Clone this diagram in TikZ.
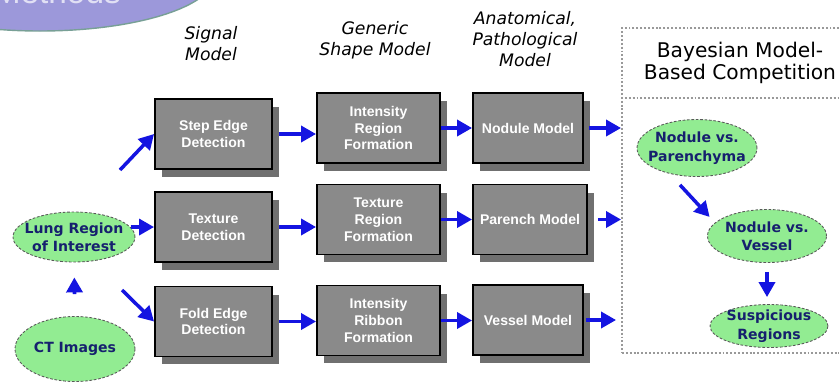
\documentclass[tikz,border=0pt]{standalone}
\usepackage{fontspec}
\setmainfont{Liberation Sans}
\newfontfamily\dejavu{DejaVu Sans}
\usetikzlibrary{positioning, shapes.geometric, shadows, arrows.meta}

\definecolor{lavender}{RGB}{156,152,218}
\definecolor{lavedge}{RGB}{120,160,150}
\definecolor{boxgray}{RGB}{138,138,138}
\definecolor{shadegray}{RGB}{112,112,112}
\definecolor{lightgrn}{RGB}{146,236,146}
\definecolor{navy}{RGB}{22,32,110}
\definecolor{arrblue}{RGB}{20,20,225}

\begin{document}
\begin{tikzpicture}[x=0.02cm, y=-0.02cm,
    procbox/.style={draw=black, line width=1.1pt, fill=boxgray, text=white,
      font=\bfseries\fontsize{8}{9.6}\selectfont, align=center,
      minimum height=1.4cm, inner sep=1pt,
      drop shadow={shadow xshift=0.14cm, shadow yshift=-0.16cm, fill=shadegray, opacity=1}},
    greenell/.style={ellipse, draw=black!65, dash pattern=on 1.5pt off 1pt,
      line width=0.5pt, fill=lightgrn, inner sep=0pt},
    greentxt/.style={text=navy, font=\dejavu\bfseries\fontsize{8}{10.5}\selectfont, align=center},
    heading/.style={font=\dejavu\itshape\fontsize{9.8}{12}\selectfont, align=center},
    arr/.style={-{Triangle[length=0.3cm, width=0.32cm]}, line width=2pt, draw=arrblue},
    dotline/.style={draw=gray!80, line width=1.1pt, dash pattern=on 1.1pt off 1.1pt}
  ]
  \path[use as bounding box, fill=white] (0,0) rectangle (839,383);

  \fill[lavender, draw=lavedge, line width=0.8pt] (40,-24.5) ellipse (175 and 55.5);
  \node[anchor=base east, text=white!70!lavender, font=\fontsize{19}{22}\selectfont] (meth) at (127,3) {Methods};

  \node[heading] (sig) at (211,44) {Signal\\Model};
  \node[heading] (gen) at (375,40) {Generic\\Shape Model};
  \node[heading] (anat) at (525,39) {Anatomical,\\Pathological\\Model};

  \node[procbox, minimum width=2.34cm] (step) at (213.5,134) {Step Edge\\Detection};
  \node[procbox, minimum width=2.34cm] (tex) at (213.5,227) {Texture\\Detection};
  \node[procbox, minimum width=2.34cm] (fold) at (213.5,321.5) {Fold Edge\\Detection};

  \node[procbox, minimum width=2.46cm] (ireg) at (378.5,128) {Intensity\\Region\\Formation};
  \node[procbox, minimum width=2.46cm] (treg) at (378.5,219.5) {Texture\\Region\\Formation};
  \node[procbox, minimum width=2.46cm] (irib) at (378.5,320.5) {Intensity\\Ribbon\\Formation};

  \node[procbox, minimum width=2.2cm] (nodm) at (528,128) {Nodule Model};
  \node[procbox, minimum width=2.28cm] (parm) at (530,219.5) {Parench Model};
  \node[procbox, minimum width=2.2cm] (vesm) at (528,320) {Vessel Model};

  \node[greenell, minimum width=2.44cm, minimum height=1.0cm] (lung) at (74,237) {};
  \node[greentxt] at (lung) {Lung Region\\of Interest};
  \node[greenell, minimum width=2.4cm, minimum height=1.3cm] (ct) at (75,349) {};
  \node[greentxt] at (ct) {CT Images};

  \node[dotline, draw, minimum width=4.76cm, minimum height=6.5cm] (bmc) at (741,190.5) {};
  \coordinate (sep) at (0,98);
  \draw[dotline] (bmc.west |- sep) -- (bmc.east |- sep);
  \node[font=\dejavu\fontsize{11.5}{12.5}\selectfont, align=center] (btitle) at (740,63) {Bayesian Model-\\Based Competition};

  \node[greenell, minimum width=2.4cm, minimum height=1.14cm] (nvp) at (697,148) {};
  \node[greentxt] at (nvp) {Nodule vs.\\Parenchyma};
  \node[greenell, minimum width=2.38cm, minimum height=1.06cm] (nvv) at (767,236) {};
  \node[greentxt] at (nvv) {Nodule vs.\\Vessel};
  \node[greenell, minimum width=2.36cm, minimum height=0.86cm] (susp) at (769,326) {};
  \node[greentxt] at (susp) {Suspicious\\Regions};

  \coordinate (up) at (120,170);
  \coordinate (down) at (122,290);
  \draw[arr] (up) -- (step.west);
  \draw[arr] (lung.10) -- (lung.10 -| tex.west);
  \draw[arr] (down) -- (fold.west);
  \draw[arr, shorten <=0.44cm, shorten >=0.3cm] (ct) -- (lung);

  \draw[arr, shorten <=0.12cm] (step.east) -- (step.east -| ireg.west);
  \draw[arr, shorten <=0.12cm] (tex.east) -- (tex.east -| treg.west);
  \draw[arr, shorten <=0.12cm] (fold.east) -- (fold.east -| irib.west);

  \draw[arr] (ireg.east) -- (ireg.east -| nodm.west);
  \draw[arr] (treg.east) -- (treg.east -| parm.west);
  \draw[arr] (irib.east) -- (irib.east -| vesm.west);

  \draw[arr, shorten <=0.1cm] (nodm.east) -- (nodm.east -| bmc.west);
  \draw[arr, shorten <=0.2cm] (parm.east) -- (parm.east -| bmc.west);
  \draw[arr, shorten <=0.04cm, shorten >=0.1cm] (vesm.east) -- (vesm.east -| bmc.west);

  \draw[arr] ([xshift=-0.34cm, yshift=-0.16cm]nvp.south) -- ([xshift=-0.3cm]nvv.north west);
  \draw[arr, shorten <=0.18cm, shorten >=0.14cm] (nvv.south) -- (nvv.south |- susp.north);
\end{tikzpicture}
\end{document}
